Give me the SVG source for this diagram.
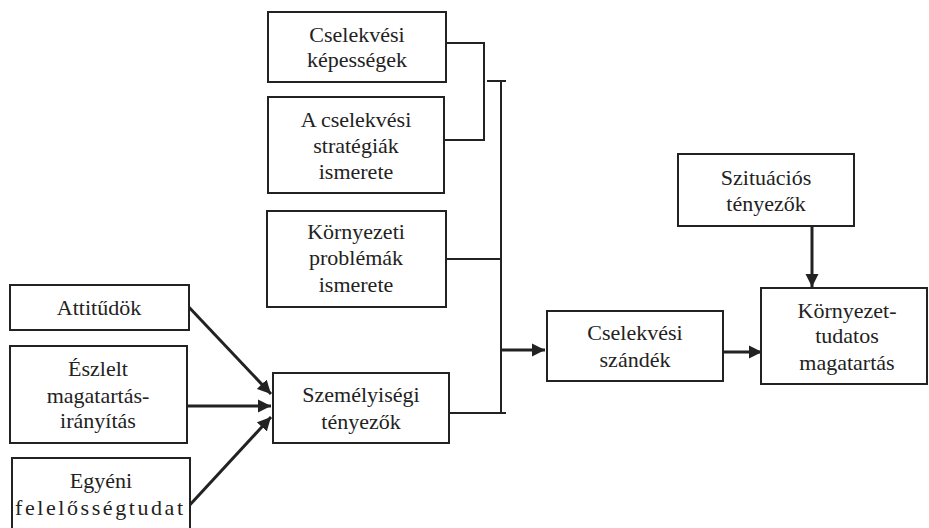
<svg xmlns="http://www.w3.org/2000/svg" width="929" height="528" viewBox="0 0 929 528">
<defs>
<marker id="ah" viewBox="0 0 10 10" refX="10" refY="5" markerWidth="4.5" markerHeight="4.5" orient="auto" markerUnits="strokeWidth">
<path d="M0,0L10,5L0,10z" fill="#222"/>
</marker>
</defs>
<g id="connectors" fill="none" stroke="#222" stroke-width="2">
<polyline points="446,43 484,43 484,140 444,140"/>
<line x1="487" y1="81" x2="506" y2="81"/>
<line x1="501" y1="81" x2="501" y2="413"/>
<line x1="501" y1="413" x2="506" y2="413"/>
<line x1="444" y1="259" x2="501" y2="259"/>
<line x1="449" y1="413" x2="501" y2="413"/>
<g stroke-width="3">
<line x1="501" y1="350" x2="545" y2="350" marker-end="url(#ah)"/>
<line x1="723" y1="352" x2="762" y2="352" marker-end="url(#ah)"/>
<line x1="812" y1="226" x2="812" y2="287" marker-end="url(#ah)"/>
<line x1="185" y1="303" x2="271" y2="394" marker-end="url(#ah)"/>
<line x1="184" y1="406" x2="271" y2="406" marker-end="url(#ah)"/>
<line x1="187" y1="508" x2="271" y2="417" marker-end="url(#ah)"/>
</g>
</g>
<g id="nodes" font-size="22" text-anchor="middle" fill="#222">
<g id="n1"><rect x="268" y="12" width="178" height="70" fill="#fff" stroke="#222" stroke-width="2"/><text font-family="Liberation Serif" x="357" y="42">Cselekvési</text><text font-family="Liberation Serif" x="357" y="67">képességek</text></g>
<g id="n2"><rect x="268" y="97" width="176" height="96" fill="#fff" stroke="#222" stroke-width="2"/><text font-family="Liberation Serif" x="356" y="127">A cselekvési</text><text font-family="Liberation Serif" x="356" y="153">stratégiák</text><text font-family="Liberation Serif" x="356" y="179">ismerete</text></g>
<g id="n3"><rect x="267" y="211" width="179" height="96" fill="#fff" stroke="#222" stroke-width="2"/><text font-family="Liberation Serif" x="356" y="239">Környezeti</text><text font-family="Liberation Serif" x="356" y="265">problémák</text><text font-family="Liberation Serif" x="356" y="292">ismerete</text></g>
<g id="n4"><rect x="273" y="373" width="176" height="70" fill="#fff" stroke="#222" stroke-width="2"/><text font-family="Liberation Serif" x="361" y="402">Személyiségi</text><text font-family="Liberation Serif" x="361" y="429">tényezők</text></g>
<g id="n5"><rect x="10" y="285" width="179" height="45" fill="#fff" stroke="#222" stroke-width="2"/><text font-family="Liberation Serif" x="99" y="315">Attitűdök</text></g>
<g id="n6"><rect x="10" y="346" width="177" height="97" fill="#fff" stroke="#222" stroke-width="2"/><text font-family="Liberation Serif" x="98" y="376">Észlelt</text><text font-family="Liberation Serif" x="98" y="403">magatartás-</text><text font-family="Liberation Serif" x="98" y="428">irányítás</text></g>
<g id="n7"><rect x="12" y="458" width="178" height="80" fill="#fff" stroke="#222" stroke-width="2"/><text font-family="Liberation Serif" x="101" y="488">Egyéni</text><text font-family="Liberation Serif" x="99" y="515" textLength="168" lengthAdjust="spacing">felelősségtudat</text></g>
<g id="n8"><rect x="678" y="154" width="176" height="72" fill="#fff" stroke="#222" stroke-width="2"/><text font-family="Liberation Serif" x="766" y="185">Szituációs</text><text font-family="Liberation Serif" x="766" y="211">tényezők</text></g>
<g id="n9"><rect x="547" y="311" width="176" height="70" fill="#fff" stroke="#222" stroke-width="2"/><text font-family="Liberation Serif" x="635" y="340">Cselekvési</text><text font-family="Liberation Serif" x="635" y="367">szándék</text></g>
<g id="n10"><rect x="761" y="288" width="166" height="96" fill="#fff" stroke="#222" stroke-width="2"/><text font-family="Liberation Serif" x="847" y="318">Környezet-</text><text font-family="Liberation Serif" x="847" y="343">tudatos</text><text font-family="Liberation Serif" x="847" y="370">magatartás</text></g>
</g>
</svg>
